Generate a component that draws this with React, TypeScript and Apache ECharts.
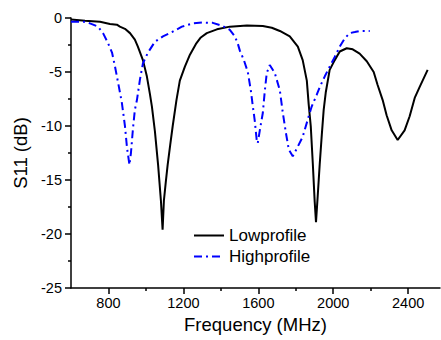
import React, { useEffect, useRef } from "react";
import * as echarts from "echarts";

const lowFreq = [600, 675, 755, 808, 845, 861, 888, 915, 941, 957, 984, 1005, 1021, 1032, 1048, 1065, 1080, 1089, 1096, 1106, 1116, 1130, 1143, 1163, 1181, 1208, 1235, 1267, 1293, 1325, 1379, 1448, 1539, 1624, 1672, 1715, 1768, 1811, 1837, 1859, 1869, 1880, 1891, 1901, 1908, 1917, 1928, 1939, 1949, 1960, 1981, 2008, 2035, 2072, 2104, 2141, 2179, 2216, 2237, 2264, 2285, 2312, 2344, 2381, 2408, 2435, 2461, 2504];
const lowS11 = [-0.15, -0.25, -0.35, -0.55, -0.62, -0.8, -1.0, -1.4, -2.0, -2.65, -3.9, -5.4, -7.0, -8.2, -10.5, -13.6, -16.9, -19.6, -16.9, -15.2, -13.6, -11.7, -10.0, -7.6, -5.8, -4.5, -3.4, -2.4, -1.8, -1.4, -1.05, -0.8, -0.7, -0.75, -0.9, -1.2, -1.7, -2.65, -3.9, -5.8, -8.0, -10.0, -13.5, -17.0, -18.9, -16.5, -13.5, -10.8, -8.5, -6.9, -4.8, -3.9, -3.1, -2.8, -2.9, -3.3, -4.0, -5.0, -6.2, -7.6, -9.0, -10.4, -11.3, -10.4, -9.1, -7.4, -6.4, -4.8];

const highFreq = [600, 675, 701, 744, 771, 797, 819, 835, 856, 872, 888, 899, 912, 920, 931, 941, 952, 968, 984, 1011, 1048, 1091, 1139, 1192, 1251, 1300, 1357, 1411, 1448, 1475, 1491, 1501, 1523, 1544, 1560, 1571, 1581, 1592, 1597, 1608, 1624, 1635, 1645, 1661, 1688, 1715, 1731, 1747, 1763, 1784, 1811, 1837, 1864, 1885, 1912, 1928, 1955, 1981, 2008, 2035, 2061, 2088, 2115, 2141, 2195];
const highS11 = [-0.35, -0.35, -0.5, -0.8, -1.4, -2.3, -3.2, -4.5, -6.4, -7.9, -10.0, -12.0, -13.6, -12.5, -10.2, -8.5, -7.6, -5.7, -4.2, -3.2, -2.2, -1.7, -1.3, -0.8, -0.5, -0.42, -0.45, -0.75, -1.1, -1.7, -2.4, -3.0, -3.9, -5.0, -6.7, -8.2, -9.5, -11.4, -11.6, -10.4, -8.8, -6.7, -5.1, -4.35, -5.1, -6.7, -8.8, -10.6, -12.2, -12.8, -11.9, -11.0, -9.4, -8.2, -7.1, -6.4, -5.4, -4.5, -3.6, -2.65, -1.9, -1.4, -1.3, -1.2, -1.2];

const xMajorTicks = [800, 1200, 1600, 2000, 2400];
const xMinorTicks = [1000, 1400, 1800, 2200];
const seriesNames = ["Lowprofile", "Highprofile"];

const FONT = "Liberation Sans, Arial, sans-serif";

export default function App() {
  const ref = useRef<HTMLDivElement>(null);
  useEffect(() => {
    if (!ref.current) return;
    const chart = echarts.init(ref.current, null, { renderer: "svg" });
    const low = lowFreq.map((f, i) => [f, lowS11[i]]);
    const high = highFreq.map((f, i) => [f, highS11[i]]);
    chart.setOption({
      animation: false,
      backgroundColor: "#fff",
      grid: { left: 71, right: 1, top: 18, bottom: 52 },
      legend: {
        left: 188,
        top: 222,
        orient: "vertical",
        itemWidth: 30,
        itemHeight: 14,
        itemGap: 4,
        itemStyle: { opacity: 0 },
        textStyle: { fontFamily: FONT, fontSize: 17, color: "#000" },
        data: seriesNames,
      },
      xAxis: [
        {
          type: "value",
          min: 600,
          max: 2570,
          name: "Frequency (MHz)",
          nameLocation: "middle",
          nameGap: 27,
          nameTextStyle: { fontFamily: FONT, fontSize: 18.5, color: "#000" },
          axisLine: { show: true, onZero: false, lineStyle: { color: "#000", width: 1.5 } },
          axisTick: { show: true, inside: false, length: 6, lineStyle: { color: "#000", width: 1.5 }, customValues: xMajorTicks },
          axisLabel: { fontFamily: FONT, fontSize: 14.5, color: "#000", margin: 7, customValues: xMajorTicks, formatter: (v: number) => String(v) },
          splitLine: { show: false },
        },
        {
          type: "value",
          min: 600,
          max: 2570,
          position: "bottom",
          axisLine: { show: false, onZero: false },
          axisTick: { show: true, inside: false, length: 3, lineStyle: { color: "#000", width: 1.5 }, customValues: xMinorTicks },
          axisLabel: { show: false },
          splitLine: { show: false },
        },
      ],
      yAxis: {
        type: "value",
        min: -25,
        max: 0,
        interval: 5,
        name: "S11 (dB)",
        nameLocation: "middle",
        nameGap: 36,
        nameTextStyle: { fontFamily: FONT, fontSize: 18.5, color: "#000" },
        axisLine: { show: true, onZero: false, lineStyle: { color: "#000", width: 1.5 } },
        axisTick: { show: true, inside: false, length: 6, lineStyle: { color: "#000", width: 1.5 } },
        minorTick: { show: true, splitNumber: 2, length: 3, lineStyle: { color: "#000", width: 1.5 } },
        axisLabel: { fontFamily: FONT, fontSize: 14.5, color: "#000", margin: 9, formatter: (v: number) => String(v) },
        splitLine: { show: false },
      },
      series: [
        {
          name: seriesNames[0],
          type: "line",
          data: low,
          symbol: "none",
          lineStyle: { color: "#000", width: 2 },
          itemStyle: { color: "#000" },
        },
        {
          name: seriesNames[1],
          type: "line",
          data: high,
          symbol: "none",
          lineStyle: { color: "#0000ff", width: 2, type: [8, 4, 2, 4] },
          itemStyle: { color: "#0000ff" },
        },
      ],
    });
    return () => chart.dispose();
  }, []);
  return <div ref={ref} style={{ position: "absolute", left: 0, top: 0, width: 441, height: 340 }} />;
}
